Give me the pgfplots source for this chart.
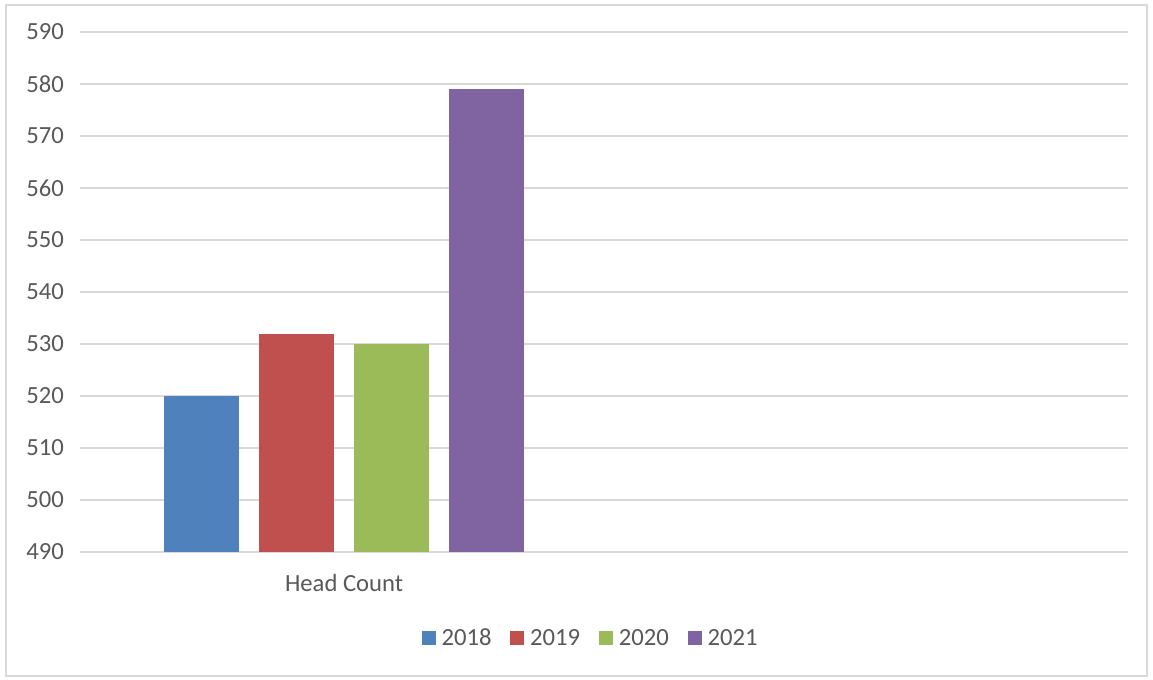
\documentclass[border=0pt]{standalone}
\usepackage{fontspec}
\setmainfont{Carlito}
\usepackage{pgfplots}
\pgfplotsset{compat=1.18}
\definecolor{cA}{HTML}{4F81BD}
\definecolor{cB}{HTML}{C0504D}
\definecolor{cC}{HTML}{9BBB59}
\definecolor{cD}{HTML}{8064A2}
\definecolor{txt}{HTML}{595959}
\definecolor{grd}{HTML}{D9D9D9}
\begin{document}
\begin{tikzpicture}
\path[use as bounding box] (0pt,0pt) rectangle (864.75pt,509.25pt);
\draw[grd, line width=1.1pt] (4.5pt,2.25pt) rectangle (860.25pt,505.5pt);
\begin{axis}[
  at={(60pt,95.25pt)}, anchor=south west,
  scale only axis, width=786pt, height=390pt,
  ybar=15pt, bar width=56.25pt,
  legend image code/.code={\fill[#1] (0pt,-5.25pt) rectangle (10.5pt,5.25pt);},
  xmin=-0.5, xmax=1.5, ymin=490, ymax=590,
  ytick={490,500,...,590},
  xtick={0.004}, xticklabels={Head Count},
  axis x line*=bottom, axis y line*=left,
  y axis line style={draw=none},
  x axis line style={grd, line width=1.1pt},
  major tick length=0pt,
  ymajorgrids, grid style={grd, line width=1.1pt},
  ticklabel style={font=\fontsize{18.5}{21}\selectfont, text=txt},
  /pgf/number format/assume math mode=true,
  yticklabel style={xshift=-8.5pt},
  xticklabel style={yshift=-13pt},
  legend style={at={(0.4875,-0.166)}, anchor=center, legend columns=4, draw=none,
    font=\fontsize{18.5}{21}\selectfont, text=txt,
    /tikz/every odd column/.append style={column sep=2.5pt},
    /tikz/every even column/.append style={column sep=12pt}},
]
\addplot[fill=cA, draw=none] coordinates {(0.004,520)};
\addplot[fill=cB, draw=none] coordinates {(0.004,532)};
\addplot[fill=cC, draw=none] coordinates {(0.004,530)};
\addplot[fill=cD, draw=none] coordinates {(0.004,579)};
\legend{2018,2019,2020,2021}
\end{axis}
\end{tikzpicture}
\end{document}
